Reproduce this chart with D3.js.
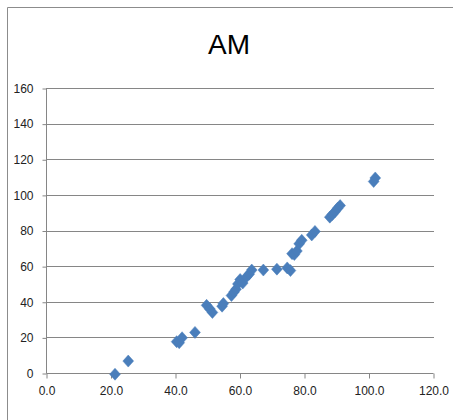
<!DOCTYPE html>
<html><head><meta charset="utf-8">
<script src="https://cdn.jsdelivr.net/npm/d3@7"></script>
<style>
html,body{margin:0;padding:0;background:#fff;}
text{font-family:"Liberation Sans Narrow","Arial Narrow","Liberation Sans",sans-serif;}
</style></head>
<body><svg id="c" width="453" height="420"></svg>
<script>
const title = "AM";
const xValues = [21.4,25.5,40.5,41.3,42.2,46.2,49.8,50.8,51.6,54.6,55.0,57.5,58.3,58.9,59.5,60.2,61.0,62.2,63.0,63.8,67.4,71.6,74.8,75.8,76.3,77.0,77.8,78.5,79.3,82.4,83.4,88.0,88.8,89.6,90.4,91.2,101.6,102.1];
const yValues = [-0.7,6.7,17.6,17.0,19.8,22.8,38.0,36.0,34.0,37.5,39.0,43.5,45.5,47.0,50.0,52.5,50.5,54.0,55.5,57.8,57.8,58.3,59.0,57.5,67.0,66.5,68.5,72.5,74.5,77.5,79.5,87.5,89.0,90.5,92.5,94.0,107.5,109.5];
const xTicks = [0,20,40,60,80,100,120];
const yTicks = [0,20,40,60,80,100,120,140,160];

const svg = d3.select("#c");
// outer chart border
svg.append("path").attr("d","M7.5,420 V7.5 H453").attr("fill","none").attr("stroke","#8c8c8c").attr("stroke-width",1);

const x = d3.scaleLinear().domain([0,120]).range([46,433]);
const y = d3.scaleLinear().domain([0,160]).range([373,88]);

// gridlines
svg.append("g").selectAll("line").data(yTicks.filter(d=>d>0)).join("line")
  .attr("x1",x(0)).attr("x2",x(120)+1)
  .attr("y1",d=>Math.round(y(d))+0.5).attr("y2",d=>Math.round(y(d))+0.5)
  .attr("stroke","#868686").attr("stroke-width",1);

// y axis
const yAxis = d3.axisLeft(y).tickValues(yTicks).tickSize(4).tickPadding(9).tickFormat(d3.format("d"));
const gy = svg.append("g").attr("transform","translate(46.5,0.5)").call(yAxis);
gy.select(".domain").attr("stroke","#868686").attr("d","M0,"+y(160)+"V"+y(0));
gy.selectAll(".tick line").attr("stroke","#868686");
gy.selectAll("text").attr("font-size","12px").attr("fill","#222");

// x axis
const xAxis = d3.axisBottom(x).tickValues(xTicks).tickSize(5).tickPadding(8).tickFormat(d3.format(".1f"));
const gx = svg.append("g").attr("transform","translate(0.5,"+(y(0)+0.5)+")").call(xAxis);
gx.select(".domain").attr("stroke","#868686").attr("d","M"+x(0)+",0H"+x(120));
gx.selectAll(".tick line").attr("stroke","#868686");
gx.selectAll("text").attr("font-size","12px").attr("fill","#222");

// points
const pts = xValues.map((v,i)=>({x:v,y:yValues[i]}));
const r = 6;
svg.append("g").selectAll("path").data(pts).join("path")
  .attr("d",d=>{const cx=x(d.x), cy=y(d.y); return `M${cx},${cy-r}L${cx+r*0.9},${cy}L${cx},${cy+r}L${cx-r*0.9},${cy}Z`;})
  .attr("fill","#4a7ebb").attr("stroke","#4a7ebb").attr("stroke-width",0.5);

// title
svg.append("text").attr("x",229).attr("y",54).attr("text-anchor","middle")
  .attr("font-size","28px").attr("fill","#000").style("font-family","'Liberation Sans Narrow','Liberation Sans',sans-serif").text(title);
</script></body></html>
